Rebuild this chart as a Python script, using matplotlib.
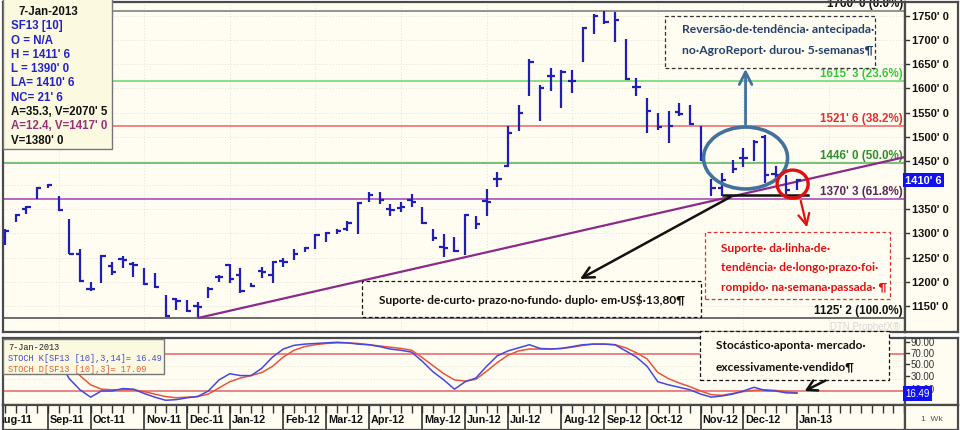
import numpy as np
import pandas as pd
import matplotlib
matplotlib.use("Agg")
import matplotlib.pyplot as plt
from matplotlib.patches import Ellipse, Rectangle
from matplotlib.transforms import blended_transform_factory

plt.rcParams['font.family'] = ['Liberation Sans', 'DejaVu Sans']

# semanas (segunda-feira) do contrato SF13
weeks = pd.date_range('2011-08-08', periods=75, freq='W-MON')

highs = [1309, 1340, 1357, 1397, 1403, 1378, 1330, 1267, 1200, 1256,
         1240, 1254, 1240, 1229, 1219, 1173, 1167, 1162, 1158, 1190,
         1215, 1236, 1229, 1198, 1231, 1242, 1250, 1267, 1273, 1298,
         1304, 1309, 1326, 1365, 1386, 1386, 1361, 1365, 1382, 1355,
         1309, 1298, 1292, 1340, 1336, 1392, 1428, 1522, 1566, 1660,
         1606, 1643, 1637, 1639, 1727, 1754, 1760, 1757, 1702, 1622,
         1581, 1549, 1553, 1570, 1566, 1522, 1413, 1424, 1451, 1476,
         1493, 1503, 1440, 1420, 1411.75]
lows = [1277, 1323, 1340, 1372, 1393, 1346, 1257, 1200, 1180, 1198,
        1215, 1229, 1210, 1194, 1187, 1127, 1141, 1137, 1127, 1167,
        1200, 1198, 1177, 1190, 1208, 1198, 1231, 1246, 1261, 1267,
        1282, 1298, 1305, 1298, 1365, 1361, 1336, 1344, 1355, 1319,
        1284, 1252, 1261, 1256, 1309, 1336, 1397, 1438, 1512, 1585,
        1533, 1595, 1560, 1591, 1654, 1712, 1733, 1695, 1618, 1585,
        1507, 1514, 1487, 1543, 1524, 1449, 1378, 1378, 1424, 1438,
        1449, 1405, 1407, 1382, 1390]
closes = [1305, 1338, 1355, 1395, 1400, 1348, 1258, 1202, 1185, 1254,
          1220, 1245, 1235, 1196, 1190, 1130, 1160, 1140, 1148, 1185,
          1210, 1206, 1182, 1192, 1220, 1240, 1240, 1258, 1269, 1296,
          1300, 1305, 1322, 1362, 1380, 1370, 1348, 1355, 1365, 1322,
          1290, 1270, 1263, 1338, 1320, 1365, 1412, 1507, 1549, 1655,
          1600, 1625, 1634, 1616, 1724, 1750, 1738, 1742, 1620, 1602,
          1553, 1520, 1522, 1548, 1526, 1451, 1395, 1410, 1434, 1455,
          1490, 1420, 1420, 1390, 1410.75]
nan = np.nan
opens = [nan, nan, 1350, nan, nan, nan, nan, 1258, 1186, nan,
         1232, 1248, 1237, nan, nan, nan, 1165, nan, 1150, nan,
         1210, 1234, 1215, nan, 1222, 1215, 1244, nan, nan, nan,
         nan, nan, 1310, nan, nan, nan, 1350, 1352, 1370, nan,
         nan, 1272, nan, nan, nan, 1368, 1412, 1440, nan, nan,
         nan, 1625, nan, 1616, nan, nan, nan, nan, nan, 1602,
         nan, nan, nan, 1552, nan, nan, nan, 1395, nan, 1455,
         nan, 1500, 1422, nan, nan]

stoch_k = [85, 88, 90, 92, 93, 70, 40, 22, 10, 20,
           20, 24, 23, 16, 10, 5, 6, 9, 11, 20,
           38, 48, 45, 45, 57, 75, 88, 94, 96, 97,
           98, 99, 98, 96, 95, 92, 88, 86, 83, 68,
           51, 38, 23, 35, 41, 60, 77, 85, 90, 95,
           89, 88, 89, 92, 95, 96, 96, 95, 85, 75,
           60, 35, 30, 26, 22, 15, 10, 12, 15, 20,
           26, 21, 20, 17, 16.49]
stoch_d = [80, 84, 87, 89, 91, 83, 67, 45, 30, 23,
           22, 22, 22, 19, 15, 11, 9, 10, 11, 15,
           25, 35, 41, 45, 50, 60, 75, 86, 92, 95,
           97, 98, 98, 97, 95, 93, 91, 89, 86, 74,
           61, 48, 38, 36, 39, 52, 66, 78, 85, 88,
           88, 88, 89, 91, 94, 96, 96, 95, 90, 82,
           72, 50, 40, 33, 27, 20, 14, 13, 16, 19,
           21, 22, 21, 19, 17.09]

fib_levels = [1760.0, 1615.25, 1521.75, 1446.0, 1370.375, 1125.25]
fib_labels = ["1760' 0 (0.0%)", "1615' 3 (23.6%)", "1521' 6 (38.2%)",
              "1446' 0 (50.0%)", "1370' 3 (61.8%)", "1125' 2 (100.0%)"]
fib_line_colors = ['#8a8a8a', '#7ddc7d', '#ee7b7b', '#6dbb6d', '#b05cc0', '#606060']
fib_text_colors = ['#111111', '#33cc33', '#e03030', '#2f8f2f', '#5a2a5a', '#111111']

trend_x = [18.0, 84.1]
trend_y = [1125, 1458]
support_x = [67.1, 75.0]
support_y = [1380, 1380]

# 1400' 0 fica escondido sob a etiqueta do ultimo preco
price_ticks = [v for v in range(1150, 1800, 50) if v != 1400]
stoch_ticks = [90, 70, 50, 30, 10]

x = np.arange(len(weeks))
bg = '#fffdf1'
bar_c = '#1f1fb8'
frame_c = '#4a4a4a'
note_font = ['Lato', 'DejaVu Sans']

W, H = 960, 431


def px(x0, y0, x1, y1):
    return [x0 / W, 1 - y1 / H, (x1 - x0) / W, (y1 - y0) / H]


fig = plt.figure(figsize=(9.6, 4.31), dpi=100)
fig.patch.set_facecolor('white')

ax = fig.add_axes(px(3, 3, 905, 333))
ax_r = fig.add_axes(px(905, 3, 958, 333))
ax_s = fig.add_axes(px(3, 339, 905, 406))
ax_sr = fig.add_axes(px(905, 339, 958, 406))
ax_d = fig.add_axes(px(3, 406, 905, 431))
ax_dr = fig.add_axes(px(905, 406, 958, 431))

xlim = (-0.19, 84.1)
ylim = (1096.2, 1778.6)

for a in (ax, ax_r, ax_s, ax_sr, ax_d, ax_dr):
    a.set_facecolor(bg)
    a.set_xticks([])
    a.set_yticks([])
    for s in a.spines.values():
        s.set_color(frame_c)
        s.set_linewidth(1.6)

# ---- painel de precos ----
ax.set_xlim(*xlim)
ax.set_ylim(*ylim)
for v in range(1150, 1800, 50):
    ax.axhline(v, color='#e4e2d4', lw=0.7, ls=(0, (1, 2)), zorder=0)
for v in np.arange(5, 84, 8):
    ax.axvline(v, color='#e4e2d4', lw=0.7, ls=(0, (1, 2)), zorder=0)

for lev, col in zip(fib_levels, fib_line_colors):
    ax.axhline(lev, color=col, lw=1.3, zorder=1)
for lev, lab, col in zip(fib_levels, fib_labels, fib_text_colors):
    ax.text(83.9, lev + 4, lab, ha='right', va='bottom', color=col,
            fontsize=8.4, fontweight='bold', zorder=2)

ax.plot(trend_x, trend_y, color='#8a2a8a', lw=1.6, zorder=3, solid_capstyle='butt')
ax.plot(support_x, support_y, color='#111111', lw=1.8, zorder=3)

ax.vlines(x, lows, highs, color=bar_c, lw=1.6, zorder=4)
ax.hlines(closes, x, x + 0.4, color=bar_c, lw=1.6, zorder=4)
op = np.array(opens, dtype=float)
m = ~np.isnan(op)
ax.hlines(op[m], x[m] - 0.4, x[m], color=bar_c, lw=1.6, zorder=4)

ax.text(83.6, 1099, 'DTN ProphetX\u00ae', ha='right', va='bottom',
        color='#d6d6d6', fontsize=7, zorder=2)

# legenda superior esquerda
ax.add_patch(Rectangle((0, 0.555), 0.121, 0.46, transform=ax.transAxes,
                       facecolor='#fbf9df', edgecolor='#777777', lw=1, zorder=6,
                       clip_on=False))
info = [("7-Jan-2013", '#111111'), ("SF13 [10]", '#2323c8'), ("O = N/A", '#2323c8'),
        ("H = 1411' 6", '#2323c8'), ("L = 1390' 0", '#2323c8'),
        ("LA= 1410' 6", '#2323c8'), ("NC= 21' 6", '#2323c8'),
        ("A=35.3, V=2070' 5", '#111111'), ("A=12.4, V=1417' 0", '#9a2f7a'),
        ("V=1380' 0", '#111111')]
for k, (t, c) in enumerate(info):
    ax.text(0.009 if k else 0.017, (333 - 12 - 14.3 * k) / 330, t, transform=ax.transAxes,
            ha='left', va='center', color=c, fontsize=8.3, fontweight='bold', zorder=7)

# anotacoes
ax.add_patch(Ellipse((69.2, 1456), 7.85, 128, facecolor='none',
                     edgecolor='#41719c', lw=2.6, zorder=8))
ax.annotate('', xy=(69.2, 1646), xytext=(69.2, 1520),
            arrowprops=dict(arrowstyle='->, head_length=0.9, head_width=0.45',
                            color='#41719c', lw=2), zorder=8)
ax.add_patch(Rectangle((61.7, 1642), 19.6, 108, facecolor=bg, edgecolor='#333333',
                       lw=0.9, ls=(0, (3, 2)), zorder=7))
ax.text(63.3, 1723, 'Revers\u00e3o\u00b7de\u00b7tend\u00eancia\u00b7 antecipada\u00b7',
        family=note_font, fontweight='bold', fontsize=8.7,
        color='#24406e', va='center', zorder=9)
ax.text(63.3, 1681, 'no\u00b7AgroReport\u00b7 durou\u00b7 5\u00b7semanas\u00b6',
        family=note_font, fontweight='bold', fontsize=8.7,
        color='#24406e', va='center', zorder=9)

ax.add_patch(Ellipse((73.6, 1402), 2.9, 58, facecolor='none',
                     edgecolor='#e01010', lw=2.4, zorder=8))
ax.annotate('', xy=(75.0, 1307), xytext=(74.3, 1373),
            arrowprops=dict(arrowstyle='->, head_length=0.8, head_width=0.4',
                            color='#e01010', lw=1.6), zorder=8)
ax.add_patch(Rectangle((65.4, 1164), 17.3, 139, facecolor=bg, edgecolor='#e03030',
                       lw=0.9, ls=(0, (3, 2)), zorder=7))
for t, yy in [('Suporte\u00b7 da\u00b7linha\u00b7de\u00b7', 1270),
              ('tend\u00eancia\u00b7 de\u00b7longo\u00b7prazo\u00b7foi\u00b7', 1231),
              ('rompido\u00b7 na\u00b7semana\u00b7passada\u00b7 \u00b6', 1190)]:
    ax.text(66.9, yy, t, family=note_font, fontweight='bold',
            fontsize=8.6, color='#e01010', va='center', zorder=9)

ax.annotate('', xy=(53.5, 1203), xytext=(68.0, 1378),
            arrowprops=dict(arrowstyle='->, head_length=0.8, head_width=0.4',
                            color='#111111', lw=1.8), zorder=8)
ax.add_patch(Rectangle((33.4, 1127), 31.6, 75, facecolor=bg, edgecolor='#111111',
                       lw=0.9, ls=(0, (3, 2)), zorder=7))
ax.text(34.9, 1164, 'Suporte\u00b7 de\u00b7curto\u00b7 prazo\u00b7no\u00b7fundo\u00b7 duplo\u00b7 em\u00b7US$\u00b713,80\u00b6',
        family=note_font, fontweight='bold', fontsize=8.6,
        color='#111111', va='center', zorder=9)

# eixo de precos a direita
ax_r.set_xlim(0, 1)
ax_r.set_ylim(*ylim)
for v in range(1150, 1800, 50):
    ax_r.plot([0, 0.07], [v, v], color='#333333', lw=1)
for v in price_ticks:
    ax_r.text(0.14, v, f"{v}' 0", ha='left', va='center', fontsize=8,
              fontweight='bold', color='#111111')
ax_r.text(0.0, 1410.75, "1410' 6", ha='left', va='center', fontsize=8,
          fontweight='bold', color='white', zorder=5,
          bbox=dict(boxstyle='square,pad=0.2', facecolor='#1010f0', edgecolor='none'))

# ---- estocastico ----
ax_s.set_xlim(*xlim)
ax_s.set_ylim(-2.7, 105.9)
for v in (80, 20):
    ax_s.axhline(v, color='#e87a7a', lw=1.3, zorder=1)
for v in (40, 60):
    ax_s.axhline(v, color='#e4e2d4', lw=0.7, ls=(0, (1, 2)), zorder=0)
ax_s.plot(x, stoch_d, color='#e8553a', lw=1.1, zorder=3)
ax_s.plot(x, stoch_k, color='#4646e0', lw=1.1, zorder=3)

ax_s.add_patch(Rectangle((0, 0.46), 0.178, 0.53, transform=ax_s.transAxes,
                         facecolor='#fbf9df', edgecolor='#777777', lw=1, zorder=6))
for k, (t, c) in enumerate([('7-Jan-2013', '#222222'),
                            ('STOCH K[SF13 [10],3,14]= 16.49', '#4a4ad0'),
                            ('STOCH D[SF13 [10],3]= 17.09', '#e0603a')]):
    ax_s.text(0.006, 0.88 - 0.17 * k, t, transform=ax_s.transAxes, ha='left', va='center',
              family=['Liberation Mono', 'DejaVu Sans Mono'], fontsize=6.2,
              color=c, zorder=7)

ax_s.add_patch(Rectangle((64.9, 38), 17.7, 79, facecolor=bg, edgecolor='#111111',
                         lw=0.9, ls=(0, (3, 2)), zorder=7, clip_on=False))
ax_s.text(66.4, 96, 'Stoc\u00e1stico\u00b7aponta\u00b7 mercado\u00b7', family=note_font,
          fontweight='bold', fontsize=8.6, color='#111111', va='center', zorder=9,
          clip_on=False)
ax_s.text(66.4, 60, 'excessivamente\u00b7vendido\u00b6', family=note_font,
          fontweight='bold', fontsize=8.6, color='#111111', va='center', zorder=9,
          clip_on=False)
ax_s.annotate('', xy=(74.5, 18), xytext=(76.9, 39),
              arrowprops=dict(arrowstyle='->, head_length=0.7, head_width=0.4',
                              color='#111111', lw=1.8), zorder=8, annotation_clip=False)

ax_sr.set_xlim(0, 1)
ax_sr.set_ylim(-22, 97.1)
for v in stoch_ticks:
    ax_sr.plot([0, 0.07], [v, v], color='#333333', lw=1)
    ax_sr.text(0.1, v - (4 if v == 10 else 0), f"{v:.2f}", ha='left', va='center',
               fontsize=7, color='#333333')
tr = blended_transform_factory(ax_sr.transAxes, ax_s.transData)
ax_sr.text(0.0, 16.49, '16.49', transform=tr, ha='left', va='center', fontsize=7,
           color='white', zorder=5,
           bbox=dict(boxstyle='square,pad=0.25', facecolor='#1010f0', edgecolor='none'))

# ---- eixo de datas ----
ax_d.set_xticks(np.arange(-1, 85))
ax_d.set_xlim(*xlim)
ax_d.set_ylim(0, 1)
ax_d.tick_params(axis='x', direction='in', top=True, bottom=False, length=6,
                 width=1, color='#333333', labelbottom=False)
months = pd.date_range('2011-08-01', '2013-01-31', freq='MS')
for mo in months:
    first_mon = mo + pd.Timedelta(days=(7 - mo.weekday()) % 7)
    pos = (first_mon - weeks[0]).days / 7
    ax_d.axvline(pos, color='#333333', lw=1.2)
    ax_d.text(pos + 0.2, 0.42, mo.strftime('%b-%y'), ha='left', va='center',
              fontsize=7.8, fontweight='bold', color='#111111', clip_on=True)

ax_dr.text(0.5, 0.45, '1  Wk', transform=ax_dr.transAxes, ha='center', va='center',
           fontsize=6, color='#555555')

fig.savefig('out.png', dpi=100, facecolor=fig.get_facecolor())
